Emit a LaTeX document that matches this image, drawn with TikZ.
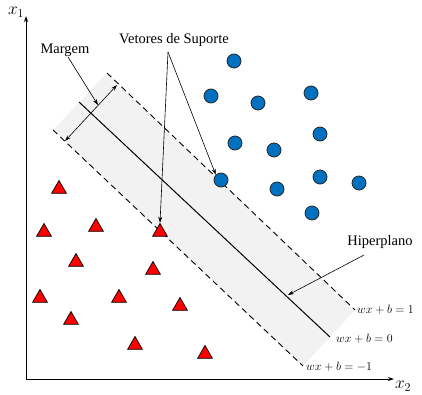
\documentclass[tikz,border=0pt]{standalone}
\usepackage{fontspec}
\setmainfont{Liberation Serif}
\usetikzlibrary{arrows.meta,shapes.geometric}
\definecolor{svmblue}{HTML}{0070C0}
\definecolor{bandgray}{HTML}{F2F2F2}
\begin{document}
\begin{tikzpicture}[x=1pt,y=-1pt,
  bluedot/.style={circle, draw=black!85, fill=svmblue, line width=0.8pt, minimum size=14pt, inner sep=0pt},
  redtri/.style={regular polygon, regular polygon sides=3, draw=black, fill=red, line width=0.7pt, minimum size=17pt, inner sep=0pt},
  dashline/.style={line width=0.9pt, dash pattern=on 6pt off 4pt},
  pointer/.style={line width=0.6pt, -{Stealth[length=6pt,width=4pt]}},
  lbl/.style={font=\fontsize{14.5}{17}\selectfont, inner sep=0pt},
  eq/.style={font=\fontsize{13}{15}\selectfont, inner sep=0pt, anchor=west}]
\useasboundingbox (0,0) rectangle (422,394);
% band
\coordinate (LA) at (53,130);
\coordinate (UA) at (107,73);
\coordinate (UB) at (355,310);
\coordinate (LB) at (303,366);
\coordinate (MA) at (79,102);
\coordinate (MB) at (330,337);
\fill[bandgray] (LA) -- (UA) -- (UB) -- (LB) -- cycle;
\draw[dashline] (UA) -- (UB);
\draw[dashline] (LA) -- (LB);
\draw[line width=1pt] (MA) -- (MB);
% axes
\coordinate (O) at (26,379);
\coordinate (Ytop) at (26,16);
\coordinate (Xend) at (394,379);
\draw[line width=1pt, -{Stealth[length=6pt,width=4pt]}] (O) -- (Ytop);
\draw[line width=1pt, -{Stealth[length=6pt,width=4pt]}] (O) -- (Xend);
\node[font=\fontsize{18}{20}\selectfont, inner sep=0pt] (x1) at (16,12) {$x_1$};
\node[font=\fontsize{18}{20}\selectfont, inner sep=0pt] (x2) at (403,386) {$x_2$};
% margin arrow
\coordinate (MgA) at (65,141);
\coordinate (MgB) at (117,85);
\draw[line width=0.6pt, {Stealth[length=6pt,width=4pt]}-{Stealth[length=6pt,width=4pt]}] (MgA) -- (MgB);
\coordinate (MgMid) at (98,105);
% blue circles
\foreach \i/\p in {1/{(234,61)},2/{(211,96)},3/{(258,103)},4/{(311,93)},5/{(235,143)},6/{(274,150)},7/{(320,134)},8/{(221,180)},9/{(277,189)},10/{(320,177)},11/{(359,183)},12/{(312,213)}}
  \node[bluedot] (c\i) at \p {};
% red triangles
\foreach \i/\p in {1/{(59,189)},2/{(44,232)},3/{(96,227)},4/{(160,232)},5/{(76,262)},6/{(153,270)},7/{(40,298)},8/{(119,298)},9/{(180,306)},10/{(71,320)},11/{(135,345)},12/{(205,354)}}
  \node[redtri] (t\i) at \p {};
% labels
\node[lbl] (margem) at (65,50) {Margem};
\node[lbl] (vetores) at (174,40) {Vetores de Suporte};
\node[lbl] (hiper) at (380,242) {Hiperplano};
\coordinate (VS) at (168,52);
\coordinate (MgTail) at (68,57);
\draw[pointer] (MgTail) -- (MgMid);
\draw[pointer] (VS) -- (c8.north west);
\draw[pointer] (VS) -- (t4.north);
\coordinate (HpA) at (364,255);
\coordinate (HpB) at (288,295);
\draw[pointer] (HpA) -- (HpB);
\node[eq] (e1) at (357,310) {$wx+b=1$};
\node[eq] (e0) at (336,339) {$wx+b=0$};
\node[eq] (em) at (306,367) {$wx+b=-1$};
\end{tikzpicture}
\end{document}
